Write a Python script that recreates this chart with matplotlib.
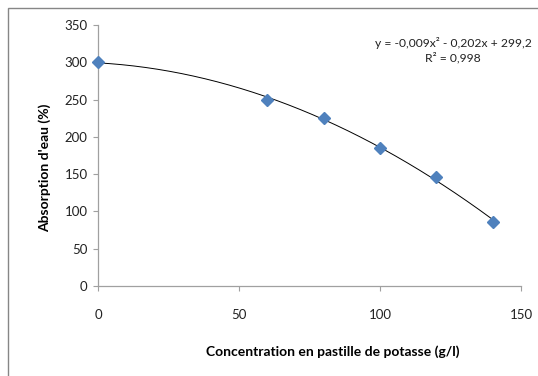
import numpy as np
import matplotlib
matplotlib.use("Agg")
import matplotlib.pyplot as plt
from matplotlib.patches import Rectangle

plt.rcParams['font.family'] = ['Lato', 'DejaVu Sans']

concentration = [0, 60, 80, 100, 120, 140]
absorption = [300, 250, 225, 185, 146, 86]
x_ticks = [0, 50, 100, 150]
y_ticks = [0, 50, 100, 150, 200, 250, 300, 350]
equation_text = "y = -0,009x\u00b2 - 0,202x + 299,2\nR\u00b2 = 0,998"

fig = plt.figure(figsize=(5.38, 3.76), dpi=100)
# outer frame (chart area border)
fig.patches.append(Rectangle((8/538, -0.1), 1.2, 1 - 8/376 + 0.1,
                             transform=fig.transFigure, fill=False,
                             edgecolor='#868686', linewidth=1.0))

ax = fig.add_axes([98/538, 1 - 286/376, 423/538, 261/376])

coeffs = np.polyfit(concentration, absorption, 2)
xs = np.linspace(min(concentration), max(concentration), 200)
ax.plot(xs, np.polyval(coeffs, xs), color='black', linewidth=0.7, zorder=2)
ax.plot(concentration, absorption, linestyle='none', marker='D',
        markersize=6, color='#4F81BD', markeredgecolor='#4F81BD', zorder=3,
        clip_on=False)

ax.set_xlim(0, 150)
ax.set_ylim(0, 350)
ax.set_xticks(x_ticks)
ax.set_yticks(y_ticks)
for s in ['top', 'right']:
    ax.spines[s].set_visible(False)
for s in ['left', 'bottom']:
    ax.spines[s].set_color('#A0A0A0')
    ax.spines[s].set_linewidth(0.9)
ax.tick_params(axis='x', direction='out', length=3.5, width=0.8, color='#A0A0A0',
               pad=13, labelsize=9.5, labelcolor='#222222')
ax.tick_params(axis='y', direction='out', length=3.5, width=0.8, color='#A0A0A0',
               pad=4, labelsize=9.5, labelcolor='#222222')

fig.text(333/538, 1 - 352/376, "Concentration en pastille de potasse (g/l)",
         ha='center', va='center', fontsize=10, fontweight='bold')
fig.text(45/538, 1 - 168/376, "Absorption d'eau (%)", rotation=90,
         ha='center', va='center', fontsize=10, fontweight='bold')
fig.text(453/538, 1 - 50/376, equation_text, ha='center', va='center',
         fontsize=8.7, linespacing=1.25, color='#222222')

fig.savefig("out.png", dpi=100)
